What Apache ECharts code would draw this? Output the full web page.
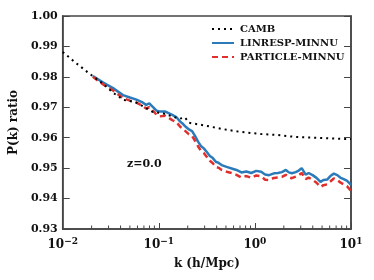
<!DOCTYPE html>
<html><head><meta charset="utf-8">
<script src="https://cdn.jsdelivr.net/npm/echarts@6/dist/echarts.min.js"></script>
<style>html,body{margin:0;padding:0;background:#fff}#c{width:374px;height:280px}</style>
</head><body><div id="c"></div>
<script>
const FONT = '"DejaVu Serif", serif';
const seriesNames = ['CAMB', 'LINRESP-MINNU', 'PARTICLE-MINNU'];
const xMajorTicks = [0.01, 0.1, 1, 10];
const xMinorTicks = [0.02,0.03,0.04,0.05,0.06,0.07,0.08,0.09,0.2,0.3,0.4,0.5,0.6,0.7,0.8,0.9,2,3,4,5,6,7,8,9];
const yTickLabels = ['0.93','0.94','0.95','0.96','0.97','0.98','0.99','1.00'];

const cambK = [0.01,0.01297,0.01837,0.02636,0.0334,0.0431,0.0572,0.0861,0.109,0.164,0.1866,0.2064,0.281,0.451,0.674,1.162,1.738,2.54,4.81,8.67,10];
const cambV = [0.9882,0.9852,0.9814,0.9777,0.9748,0.9724,0.9717,0.9685,0.9681,0.9662,0.9667,0.9649,0.9642,0.9629,0.9620,0.9612,0.9609,0.9603,0.9599,0.9596,0.9596];

const simK = [0.0206,0.0264,0.0334,0.0424,0.0500,0.0576,0.0679,0.0738,0.0796,0.0861,0.0946,0.1016,0.1172,0.138,0.152,0.167,0.179,0.192,0.206,0.222,0.238,0.256,0.274,0.294,0.316,0.340,0.365,0.392,0.420,0.451,0.508,0.572,0.643,0.724,0.815,0.917,1.032,1.161,1.277,1.403,1.580,1.738,1.910,2.100,2.254,2.422,2.662,2.858,3.070,3.374,3.623,3.983,4.378,4.813,5.166,5.680,6.098,6.625,7.197,7.729,8.498,9.124,10];
const linrespV = [0.9803,0.9781,0.9763,0.9740,0.9732,0.9726,0.9716,0.9708,0.9713,0.9702,0.9689,0.9686,0.9686,0.9675,0.9668,0.9653,0.9645,0.9635,0.9627,0.9622,0.9606,0.9587,0.9573,0.9565,0.9553,0.9540,0.9533,0.9521,0.9517,0.9510,0.9504,0.9499,0.9494,0.9486,0.9489,0.9484,0.9491,0.9488,0.9479,0.9477,0.9483,0.9484,0.9487,0.9494,0.9486,0.9483,0.9487,0.9492,0.9500,0.9479,0.9484,0.9477,0.9468,0.9455,0.9461,0.9463,0.9474,0.9482,0.9477,0.9469,0.9463,0.9458,0.9445];
const particleV = [0.9800,0.9775,0.9755,0.9730,0.9722,0.9716,0.9705,0.9696,0.9700,0.9690,0.9676,0.9670,0.9672,0.9658,0.9652,0.9636,0.9628,0.9620,0.9611,0.9606,0.9590,0.9572,0.9557,0.9550,0.9537,0.9524,0.9516,0.9504,0.9501,0.9494,0.9488,0.9484,0.9478,0.9469,0.9474,0.9468,0.9476,0.9473,0.9462,0.9461,0.9468,0.9469,0.9471,0.9478,0.9470,0.9467,0.9472,0.9477,0.9484,0.9464,0.9469,0.9462,0.9452,0.9438,0.9444,0.9447,0.9456,0.9466,0.9461,0.9453,0.9446,0.9440,0.9425];

const zip = (a, b) => a.map((x, i) => [x, b[i]]);
const sup = {'-2':'\u22122','-1':'\u22121','0':'0','1':'1'};

const chart = echarts.init(document.getElementById('c'), null, {renderer: 'canvas'});
const axisCol = '#444';
chart.setOption({
  animation: false,
  grid: {left: 59, right: 23, top: 16, bottom: 51, show: true, borderColor: axisCol, borderWidth: 1.5, backgroundColor: 'transparent'},
  legend: {
    orient: 'vertical', left: 211, top: 24, padding: 0, itemWidth: 22, itemHeight: 8, itemGap: 4,
    itemStyle: {opacity: 0},
    textStyle: {fontFamily: FONT, fontWeight: 'bold', fontSize: 10, color: '#111', padding: [0, 0, 0, 1]},
    data: seriesNames
  },
  xAxis: [{
    type: 'log', logBase: 10, min: 0.01, max: 10,
    name: 'k (h/Mpc)', nameLocation: 'middle', nameGap: 29,
    nameTextStyle: {fontFamily: FONT, fontWeight: 'bold', fontSize: 12, color: '#111'},
    axisLine: {show: true, lineStyle: {color: axisCol, width: 1.5}},
    axisTick: {show: true, inside: true, length: 6, lineStyle: {color: axisCol, width: 1}},
    axisLabel: {
      customValues: xMajorTicks, margin: 8,
      formatter: v => '{b|10}{s|' + sup[String(Math.round(Math.log10(v)))] + '}',
      rich: {
        b: {fontFamily: FONT, fontWeight: 'bold', fontSize: 12, color: '#111'},
        s: {fontFamily: FONT, fontWeight: 'bold', fontSize: 9, color: '#111', padding: [0, 0, 7, 0]}
      }
    },
    splitLine: {show: false}
  }],
  yAxis: [{
    type: 'value', min: 0.93, max: 1.0, interval: 0.01,
    name: 'P(k) ratio', nameLocation: 'middle', nameGap: 38,
    nameTextStyle: {fontFamily: FONT, fontWeight: 'bold', fontSize: 12, color: '#111'},
    axisLine: {show: true, lineStyle: {color: axisCol, width: 1.5}},
    axisTick: {show: true, inside: true, length: 7, lineStyle: {color: axisCol, width: 1}},
    axisLabel: {margin: 5, formatter: v => yTickLabels[Math.round((v - 0.93) * 100)], fontFamily: FONT, fontWeight: 'bold', fontSize: 11, color: '#111'},
    splitLine: {show: false}
  }, {
    type: 'value', min: 0.93, max: 1.0, interval: 0.01, position: 'right',
    axisLine: {show: true, lineStyle: {color: axisCol, width: 1.5}},
    axisTick: {show: true, inside: true, length: 7, lineStyle: {color: axisCol, width: 1}},
    axisLabel: {show: false}, splitLine: {show: false}
  }],
  graphic: [{
    type: 'text', left: 127, top: 159,
    style: {text: 'z=0.0', fontFamily: FONT, fontWeight: 'bold', fontSize: 11, fill: '#111'}
  }],
  series: [{
    name: seriesNames[1], type: 'line', data: zip(simK, linrespV), symbol: 'none', z: 2,
    itemStyle: {color: '#2b7bba'},
    lineStyle: {color: '#2b7bba', width: 2.5, type: 'solid'}
  }, {
    name: seriesNames[2], type: 'line', data: zip(simK, particleV), symbol: 'none', z: 3,
    itemStyle: {color: '#e0302d'},
    lineStyle: {color: '#e0302d', width: 2.5, type: [6, 4]}
  }, {
    name: seriesNames[0], type: 'line', data: zip(cambK, cambV), symbol: 'none', z: 4,
    itemStyle: {color: '#000'},
    lineStyle: {color: '#000', width: 2, type: [2, 4]}
  }, {
    name: 'minorTicks', type: 'custom', silent: true, z: 5,
    data: xMinorTicks.map(k => [k, 0.93]),
    renderItem: (params, api) => {
      const p = api.coord([api.value(0), api.value(1)]);
      return {type: 'line', shape: {x1: p[0], y1: p[1], x2: p[0], y2: p[1] - 3.5}, style: {stroke: axisCol, lineWidth: 1}};
    }
  }]
});
</script></body></html>
